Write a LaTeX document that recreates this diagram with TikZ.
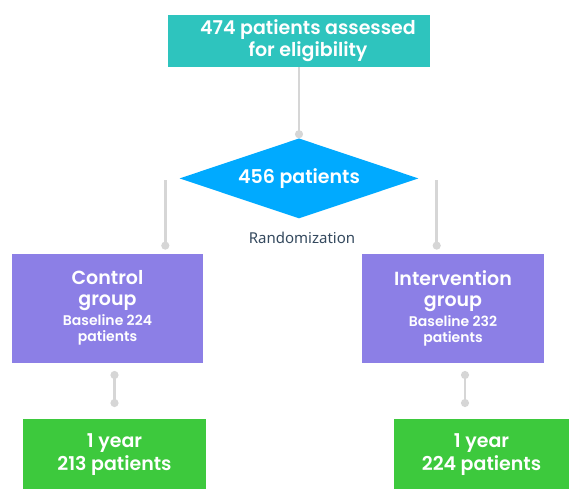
\documentclass[tikz,border=0pt]{standalone}
\usepackage{fontspec}
\setmainfont{Poppins}[BoldFont={Poppins SemiBold}]
\newfontfamily\notosans{Noto Sans}
\usetikzlibrary{positioning,shapes,arrows.meta}

\definecolor{assesscolor}{HTML}{2EC4BE}
\definecolor{decisioncolor}{HTML}{00AAFF}
\definecolor{groupcolor}{HTML}{8C7FE6}
\definecolor{yearcolor}{HTML}{3DC93D}
\definecolor{linkcolor}{HTML}{D6D6D6}
\definecolor{labelcolor}{HTML}{34495E}

\begin{document}
\begin{tikzpicture}[
    boxtext/.style={rectangle, text=white, align=center, inner sep=0pt, font=\bfseries\fontsize{19}{21}\selectfont},
    assessbox/.style={boxtext, fill=assesscolor, minimum width=262pt, minimum height=52pt},
    decision/.style={boxtext, diamond, fill=decisioncolor, aspect=3, minimum width=239pt, minimum height=80pt},
    groupbox/.style={boxtext, fill=groupcolor, minimum height=109pt},
    yearbox/.style={boxtext, fill=yearcolor, minimum height=70pt, font=\bfseries\fontsize{19}{23}\selectfont},
    link/.style={draw=linkcolor, line width=2.5pt, -{Circle[length=8pt]}},
    link2/.style={link, {Circle[length=8pt]}-{Circle[length=8pt]}}
]
    \useasboundingbox (0,0) rectangle (569pt,-488pt);

    % Blocks
    \node[assessbox, font=\bfseries\fontsize{19}{22}\selectfont] (assessed) at (299pt,-41pt) {\hspace*{18pt}474 patients assessed\\\hspace*{18pt}for eligibility};
    \node[decision, below=71pt of assessed] (randomized) {456 patients};
    \node[below=13pt of randomized, xshift=3pt, inner sep=0pt, text=labelcolor, font=\notosans\fontsize{15}{17}\selectfont] (randomlabel) {Randomization};

    \node[groupbox, minimum width=191pt, below=35pt of randomized.south, xshift=-191.5pt] (control) {Control\\group\\[-1pt]{\fontsize{14}{16}\selectfont Baseline 224}\\[-5pt]{\fontsize{14}{16}\selectfont patients}};
    \node[groupbox, minimum width=182pt, below=35pt of randomized.south, xshift=154pt] (intervention) {Intervention\\group\\[-1pt]{\fontsize{14}{16}\selectfont Baseline 232}\\[-5pt]{\fontsize{14}{16}\selectfont patients}};

    \node[yearbox, minimum width=183pt, below=56pt of control, xshift=7pt] (yearC) {1 year\\213 patients};
    \node[yearbox, minimum width=175pt, below=56pt of intervention, xshift=28.5pt] (yearI) {1 year\\224 patients};

    \coordinate (splitL) at ([xshift=-14pt, yshift=-2pt]randomized.west);
    \coordinate (splitR) at ([xshift=18pt, yshift=-2pt]randomized.east);

    % Arrows
    \draw[link] (assessed) -- (randomized);
    \draw[link, shorten >=4pt] (splitL) -- (splitL |- control.north);
    \draw[link, shorten >=4pt] (splitR) -- (splitR |- intervention.north);
    \draw[link2, shorten <=8pt, shorten >=12pt] (control.south -| yearC.north) -- (yearC.north);
    \draw[link2, shorten <=8pt, shorten >=12pt] ([xshift=12pt]intervention.south) -- ([xshift=12pt]intervention.south |- yearI.north);
\end{tikzpicture}
\end{document}
